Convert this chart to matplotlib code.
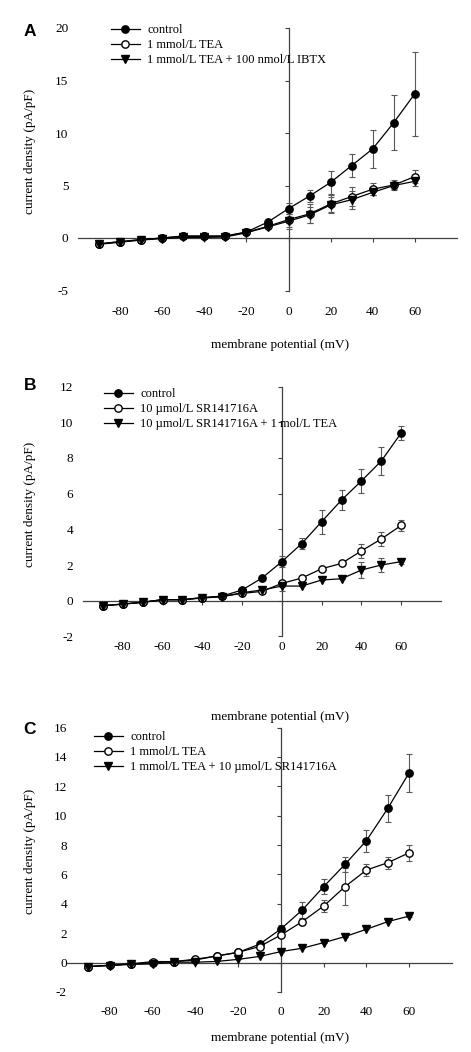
import matplotlib
matplotlib.use("Agg")
import matplotlib.pyplot as plt

plt.rcParams['font.family'] = ['Liberation Serif', 'DejaVu Serif']
plt.rcParams['axes.unicode_minus'] = False

# membrane potential (mV)
voltage = [-90, -80, -70, -60, -50, -40, -30, -20, -10, 0, 10, 20, 30, 40, 50, 60]

# panel A
a_control = [-0.57, -0.35, -0.16, 0.0, 0.2, 0.2, 0.2, 0.57, 1.5, 2.8, 4.0, 5.3, 6.9, 8.5, 11.0, 13.75]
a_control_err = [0, 0, 0, 0, 0, 0, 0, 0, 0.1, 0.5, 0.55, 1.1, 1.1, 1.8, 2.6, 4.0]
a_tea = [-0.55, -0.35, -0.15, 0.0, 0.15, 0.15, 0.15, 0.55, 1.1, 1.75, 2.3, 3.25, 3.95, 4.65, 5.05, 5.85]
a_tea_err = [0, 0, 0, 0, 0, 0, 0, 0, 0, 0.7, 0.9, 0.8, 0.9, 0.6, 0.5, 0.6]
a_ibtx = [-0.6, -0.4, -0.2, -0.05, 0.05, 0.05, 0.1, 0.5, 1.05, 1.6, 2.2, 3.15, 3.65, 4.35, 5.0, 5.4]
a_ibtx_err = [0, 0, 0, 0, 0, 0, 0, 0, 0, 0.7, 0.8, 0.75, 0.85, 0.3, 0.3, 0.4]
a_labels = ['control', '1 mmol/L TEA', '1 mmol/L TEA + 100 nmol/L IBTX']

# panel B
b_control = [-0.28, -0.19, -0.09, 0.06, 0.06, 0.17, 0.26, 0.6, 1.27, 2.19, 3.2, 4.43, 5.64, 6.71, 7.83, 9.4]
b_control_err = [0, 0, 0, 0, 0, 0, 0, 0, 0, 0.33, 0.3, 0.67, 0.55, 0.65, 0.78, 0.4]
b_sr = [-0.28, -0.19, -0.09, 0.06, 0.06, 0.17, 0.24, 0.41, 0.52, 0.97, 1.27, 1.79, 2.09, 2.79, 3.46, 4.22]
b_sr_err = [0, 0, 0, 0, 0, 0, 0, 0, 0, 0.2, 0, 0, 0, 0.37, 0.38, 0.32]
b_sr_tea = [-0.28, -0.19, -0.09, 0.05, 0.05, 0.15, 0.22, 0.45, 0.6, 0.82, 0.82, 1.16, 1.23, 1.72, 2.0, 2.19]
b_sr_tea_err = [0, 0, 0, 0, 0, 0, 0, 0, 0, 0.3, 0, 0, 0, 0.45, 0.4, 0.15]
b_labels = ['control', '10 \u00b5mol/L SR141716A', '10 \u00b5mol/L SR141716A + 1 mol/L TEA']

# panel C
c_control = [-0.27, -0.18, -0.09, 0.0, 0.07, 0.18, 0.45, 0.7, 1.25, 2.29, 3.58, 5.17, 6.69, 8.3, 10.5, 12.93]
c_control_err = [0, 0, 0, 0, 0, 0, 0, 0, 0, 0.3, 0.55, 0.5, 0.52, 0.75, 0.9, 1.3]
c_tea = [-0.27, -0.18, -0.09, 0.07, 0.07, 0.23, 0.45, 0.7, 1.09, 1.88, 2.79, 3.85, 5.17, 6.3, 6.8, 7.48]
c_tea_err = [0, 0, 0, 0, 0, 0, 0, 0, 0, 0, 0.2, 0.4, 1.25, 0.43, 0.4, 0.55]
c_tea_sr = [-0.27, -0.2, -0.12, -0.09, 0.03, 0.03, 0.08, 0.22, 0.42, 0.75, 0.98, 1.36, 1.77, 2.27, 2.79, 3.17]
c_tea_sr_err = [0, 0, 0, 0, 0, 0, 0, 0, 0, 0, 0, 0, 0, 0, 0, 0.1]
c_labels = ['control', '1 mmol/L TEA', '1 mmol/L TEA + 10 \u00b5mol/L SR141716A']

W, H = 471, 1052
fig = plt.figure(figsize=(W / 100, H / 100), dpi=100)


def px_box(x0, x1, ytop, ybot):
    return [x0 / W, 1 - ybot / H, (x1 - x0) / W, (ybot - ytop) / H]


def panel(box, series, labels, ylim, ystep, letter, letter_y, leg_xy, ypad, xpad, xlabel_y):
    ax = fig.add_axes(px_box(*box))
    styles = [('o', 'k'), ('o', 'white'), ('v', 'k')]
    for (vals, errs), (m, fc), lab in zip(series, styles, labels):
        ax.errorbar(voltage, vals, yerr=errs, fmt='none', ecolor='0.35', elinewidth=0.8,
                    capsize=2, capthick=0.8, zorder=3)
        ax.plot(voltage, vals, '-' + m, color='k', mfc=fc, mec='k',
                ms=5.3 if m == 'o' else 5.8, lw=0.9, label=lab, zorder=4)
    ax.set_xlim(-100, 80)
    ax.set_ylim(*ylim)
    ax.set_xticks(range(-80, 61, 20))
    ax.set_yticks(range(ylim[0], ylim[1] + 1, ystep))
    ax.spines['left'].set_visible(False)
    ax.spines['bottom'].set_visible(False)
    ax.spines['top'].set_position(('data', 0))
    ax.spines['right'].set_position(('data', 0))
    for s in ('top', 'right'):
        ax.spines[s].set_linewidth(0.9)
        ax.spines[s].set_color('0.25')
    ax.tick_params(axis='x', bottom=False, top=True, labelbottom=True, labeltop=False,
                   direction='in', length=3, width=0.8, pad=xpad, labelsize=9.5, color='0.25')
    ax.tick_params(axis='y', left=False, right=True, labelleft=True, labelright=False,
                   direction='in', length=3, width=0.8, pad=ypad, labelsize=9.5, color='0.25')
    ax.patch.set_visible(False)

    fig.text(30 / W, 1 - letter_y / H, letter, family='Liberation Sans', weight='bold',
             fontsize=12.5, ha='center', va='center')
    ycenter = box[2] + (box[3] - box[2]) * 0.47
    fig.text(30 / W, 1 - ycenter / H, 'current density (pA/pF)', rotation=90,
             fontsize=9.5, ha='center', va='center')
    fig.text(280 / W, 1 - xlabel_y / H, 'membrane potential (mV)', fontsize=9.5,
             ha='center', va='center')
    ax.legend(loc='upper left', bbox_to_anchor=(leg_xy[0] / W, 1 - leg_xy[1] / H),
              bbox_transform=fig.transFigure, frameon=False, fontsize=9,
              handlelength=2.3, handletextpad=0.6, labelspacing=0.25,
              borderpad=0, borderaxespad=0, numpoints=1)
    return ax


panel((78, 457, 28, 290.5),
      [(a_control, a_control_err), (a_tea, a_tea_err), (a_ibtx, a_ibtx_err)],
      a_labels, (-5, 20), 5, 'A', 32, (111, 24), 7, 11, 345)

panel((83, 441, 386.5, 636.4),
      [(b_control, b_control_err), (b_sr, b_sr_err), (b_sr_tea, b_sr_tea_err)],
      b_labels, (-2, 12), 2, 'B', 386, (104, 388), 7, 3, 717)

panel((67, 452, 727.5, 992),
      [(c_control, c_control_err), (c_tea, c_tea_err), (c_tea_sr, c_tea_sr_err)],
      c_labels, (-2, 16), 2, 'C', 730, (94, 731), 0, 10, 1038)

fig.savefig('out.png', dpi=100)
